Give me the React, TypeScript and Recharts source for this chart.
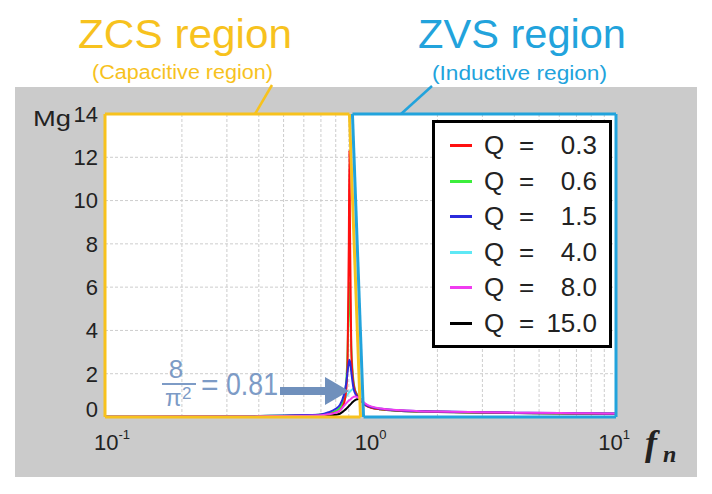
import React from 'react';
import { LineChart, Line, XAxis, YAxis, CartesianGrid, ReferenceLine, Legend } from 'recharts';

// ---- data ----
const freq = [0.1, 0.2, 0.3, 0.4, 0.5, 0.6, 0.7, 0.75, 0.8, 0.83, 0.86, 0.88, 0.89, 0.9, 0.905, 0.91, 0.92, 0.93, 0.94, 0.95, 0.96, 0.97, 0.98, 0.99,
  1.0, 1.01, 1.03, 1.06, 1.1, 1.2, 1.4, 1.7, 2, 3, 4, 6, 8, 10];

const q03 = [0.01, 0.02, 0.03, 0.04, 0.05, 0.07, 0.1, 0.14, 0.2, 0.3, 0.6, 1.3, 2.6, 8.0, 12.3, 8.5, 3.2, 2.0, 1.5, 1.25, 1.1, 1.0, 0.92, 0.86,
  0.81, 0.74, 0.6, 0.5, 0.43, 0.36, 0.3, 0.26, 0.24, 0.21, 0.19, 0.17, 0.16, 0.15];
const q06 = [0.01, 0.02, 0.03, 0.05, 0.06, 0.08, 0.12, 0.18, 0.28, 0.42, 0.8, 1.7, 3.0, 5.4, 6.2, 5.6, 3.3, 2.2, 1.6, 1.3, 1.12, 1.02, 0.94, 0.87,
  0.81, 0.75, 0.61, 0.51, 0.44, 0.36, 0.3, 0.26, 0.24, 0.21, 0.19, 0.17, 0.16, 0.15];
const q15 = [0.01, 0.02, 0.03, 0.05, 0.07, 0.09, 0.12, 0.22, 0.38, 0.55, 1.0, 1.6, 2.1, 2.5, 2.65, 2.55, 2.1, 1.65, 1.3, 1.12, 1.02, 0.95, 0.9, 0.85,
  0.81, 0.76, 0.63, 0.53, 0.46, 0.38, 0.31, 0.27, 0.25, 0.22, 0.2, 0.18, 0.17, 0.16];
const q40 = [0.01, 0.02, 0.03, 0.04, 0.06, 0.08, 0.1, 0.17, 0.28, 0.42, 0.75, 0.95, 1.05, 1.12, 1.15, 1.18, 1.24, 1.28, 1.3, 1.24, 1.15, 1.06, 0.96, 0.88,
  0.82, 0.77, 0.65, 0.55, 0.47, 0.38, 0.31, 0.27, 0.25, 0.21, 0.19, 0.17, 0.16, 0.15];
const q80 = [0.01, 0.02, 0.02, 0.03, 0.05, 0.06, 0.08, 0.13, 0.2, 0.3, 0.5, 0.64, 0.7, 0.76, 0.78, 0.8, 0.85, 0.9, 0.93, 0.95, 0.94, 0.92, 0.9, 0.87,
  0.83, 0.79, 0.68, 0.57, 0.49, 0.39, 0.32, 0.27, 0.25, 0.22, 0.2, 0.18, 0.17, 0.16];
const q150 = [0.01, 0.01, 0.02, 0.02, 0.03, 0.04, 0.05, 0.07, 0.1, 0.15, 0.28, 0.38, 0.44, 0.5, 0.53, 0.56, 0.62, 0.68, 0.73, 0.77, 0.8, 0.82, 0.83, 0.83,
  0.82, 0.77, 0.64, 0.53, 0.45, 0.36, 0.29, 0.25, 0.23, 0.2, 0.18, 0.16, 0.15, 0.14];

const seriesKeys = ['s1', 's2', 's3', 's4', 's5', 's6'];
const seriesValues = [q03, q06, q15, q40, q80, q150];
const qValues = ['0.3', '0.6', '1.5', '4.0', '8.0', '15.0'];
const seriesColors = ['#ff1010', '#3cee3c', '#2b2bdc', '#5ee8f5', '#f03cf0', '#000000'];
// drawing order (indices into the series above)
const drawOrder = [5, 3, 1, 0, 2, 4];

const yTicks = [0, 2, 4, 6, 8, 10, 12, 14];
const xTicks = [0.1, 1, 10];
const xTickExp = ['-1', '0', '1'];
const xMinor = [0.2, 0.3, 0.4, 0.5, 0.6, 0.7, 0.8, 0.9, 2, 3, 4, 5, 6, 7, 8, 9];

// region frame corners (in data units)
const zcsTopRight = 0.905;
const zcsBottomRight = 1.0;
const zvsTopLeft = 0.93;
const zvsBottomLeft = 1.028;

const data = freq.map((f, i) => {
  const row: Record<string, number> = { f };
  seriesKeys.forEach((k, j) => { row[k] = seriesValues[j][i]; });
  return row;
});

const YELLOW = '#f7c21e';
const BLUE = '#22a3dc';
const ANN = '#7d9bc6';
const TXT = '#222';
const GRID = '#cdcdcd';
const SANS = '"Liberation Sans", Arial, sans-serif';

const YTick = (props: any) => {
  const { x, y, payload } = props;
  const dy = payload.value === 0 ? -6 : 2;
  return (
    <text x={x + 1} y={y + dy} textAnchor="end" dominantBaseline="middle" fontSize={22} fontFamily={SANS} fill={TXT}>
      {payload.value}
    </text>
  );
};

const xOffsets: Record<string, number> = { '0.1': 7, '1': 10, '10': -2 };
const XTick = (props: any) => {
  const { x, y, payload, index } = props;
  const dx = xOffsets[String(payload.value)] ?? 0;
  return (
    <text x={x + dx} y={y + 25} textAnchor="middle" fontSize={22} fontFamily={SANS} fill={TXT}>
      10<tspan fontSize={13} dy={-11}>{xTickExp[index] ?? ''}</tspan>
    </text>
  );
};

const LegendBox = () => (
  <div style={{ width: 180, height: 228, boxSizing: 'border-box', border: '3px solid #000', background: '#fff', paddingTop: 5 }}>
    {qValues.map((q, i) => (
      <div key={i} style={{ position: 'relative', height: 35.6, fontFamily: SANS, fontSize: 26, color: TXT }}>
        <div style={{ position: 'absolute', left: 15, top: 16, width: 22, height: 3, background: seriesColors[i] }} />
        <span style={{ position: 'absolute', left: 49, top: 2, lineHeight: '30px' }}>Q</span>
        <span style={{ position: 'absolute', left: 84, top: 2, lineHeight: '30px' }}>=</span>
        <span style={{ position: 'absolute', right: 12, top: 2, lineHeight: '30px' }}>{q}</span>
      </div>
    ))}
  </div>
);

const Overlay = () => (
  <svg width={712} height={494} style={{ position: 'absolute', left: 0, top: 0, pointerEvents: 'none' }}>
    <text x={78} y={48} fontSize={40} fontFamily={SANS} fill={YELLOW} textLength={214} lengthAdjust="spacingAndGlyphs">ZCS region</text>
    <text x={92} y={79} fontSize={20} fontFamily={SANS} fill={YELLOW} textLength={181} lengthAdjust="spacingAndGlyphs">(Capacitive region)</text>
    <text x={418} y={48} fontSize={40} fontFamily={SANS} fill={BLUE} textLength={208} lengthAdjust="spacingAndGlyphs">ZVS region</text>
    <text x={432} y={80} fontSize={20} fontFamily={SANS} fill={BLUE} textLength={175} lengthAdjust="spacingAndGlyphs">(Inductive region)</text>
    <line x1={272} y1={85} x2={255} y2={114} stroke={YELLOW} strokeWidth={2.5} />
    <line x1={432} y1={86} x2={401} y2={114} stroke={BLUE} strokeWidth={2.5} />
    <text x={33} y={126} fontSize={22} fontFamily={SANS} fill={TXT} textLength={38} lengthAdjust="spacingAndGlyphs">Mg</text>
    {/* 8 / pi^2 = 0.81 */}
    <text x={176} y={378} textAnchor="middle" fontSize={26} fontFamily={SANS} fill={ANN}>8</text>
    <line x1={162} y1={384} x2={196} y2={384} stroke={ANN} strokeWidth={2} />
    <text x={165} y={406} fontSize={24} fontFamily={SANS} fill={ANN}>π</text>
    <text x={182} y={399} fontSize={17} fontFamily={SANS} fill={ANN}>2</text>
    <text x={201} y={395} fontSize={30} fontFamily={SANS} fill={ANN}>=</text>
    <text x={226} y={395} fontSize={31} fontFamily={SANS} fill={ANN} textLength={52} lengthAdjust="spacingAndGlyphs">0.81</text>
    <rect x={280} y={387} width={47} height={8} fill="#7090bc" />
    <polygon points="325,377 325,405 349,391" fill="#7090bc" />
    {/* f_n */}
    <text x={645} y={455} fontSize={36} fontFamily='"Liberation Serif", serif' fontStyle="italic" fontWeight="bold" fill={TXT}>f</text>
    <text x={663} y={462} fontSize={24} fontFamily='"Liberation Serif", serif' fontStyle="italic" fontWeight="bold" fill={TXT}>n</text>
  </svg>
);

export default function App() {
  return (
    <div style={{ position: 'relative', width: 712, height: 494, margin: -8, background: '#fff' }}>
      <div style={{ position: 'absolute', left: 15, top: 87, width: 682, height: 390, background: '#cbcbcb' }} />
      <div style={{ position: 'absolute', left: 0, top: 0 }}>
        <LineChart width={712} height={494} data={data} margin={{ top: 114, right: 96, bottom: 37, left: 45 }}>
          <CartesianGrid fill="#fff" vertical={false} stroke={GRID} strokeDasharray="3 2" />
          {xMinor.map((v) => (
            <ReferenceLine key={'m' + v} x={v} stroke={GRID} strokeDasharray="3 2" />
          ))}
          <XAxis dataKey="f" type="number" scale="log" domain={[0.1, 10]} ticks={xTicks} allowDataOverflow
            axisLine={false} tickLine={false} height={40} tick={<XTick />} interval={0} />
          <YAxis type="number" domain={[0, 14]} ticks={yTicks} axisLine={false} tickLine={false} width={60}
            tick={<YTick />} interval={0} />
          {drawOrder.map((i) => (
            <Line key={seriesKeys[i]} dataKey={seriesKeys[i]} name={'Q = ' + qValues[i]} stroke={seriesColors[i]} strokeWidth={2}
              dot={false} type="monotone" isAnimationActive={false} />
          ))}
          <ReferenceLine segment={[{ x: 0.1, y: 14 }, { x: zcsTopRight, y: 14 }]} stroke={YELLOW} strokeWidth={3} ifOverflow="visible" />
          <ReferenceLine segment={[{ x: zcsTopRight, y: 14 }, { x: zcsBottomRight, y: 0 }]} stroke={YELLOW} strokeWidth={3} ifOverflow="visible" />
          <ReferenceLine segment={[{ x: 0.1, y: 0 }, { x: zcsBottomRight, y: 0 }]} stroke={YELLOW} strokeWidth={3} ifOverflow="visible" />
          <ReferenceLine segment={[{ x: 0.1, y: 0 }, { x: 0.1, y: 14 }]} stroke={YELLOW} strokeWidth={3} ifOverflow="visible" />
          <ReferenceLine segment={[{ x: zvsTopLeft, y: 14 }, { x: 10, y: 14 }]} stroke={BLUE} strokeWidth={3} ifOverflow="visible" />
          <ReferenceLine segment={[{ x: zvsTopLeft, y: 14 }, { x: zvsBottomLeft, y: 0 }]} stroke={BLUE} strokeWidth={3} ifOverflow="visible" />
          <ReferenceLine segment={[{ x: zvsBottomLeft, y: 0 }, { x: 10, y: 0 }]} stroke={BLUE} strokeWidth={3} ifOverflow="visible" />
          <ReferenceLine segment={[{ x: 10, y: 0 }, { x: 10, y: 14 }]} stroke={BLUE} strokeWidth={3} ifOverflow="visible" />
          <Legend layout="horizontal" verticalAlign="middle" align="center" content={<LegendBox />}
            wrapperStyle={{ position: 'absolute', left: 432, top: 120, width: 180, height: 228 }} />
        </LineChart>
      </div>
      <Overlay />
    </div>
  );
}
